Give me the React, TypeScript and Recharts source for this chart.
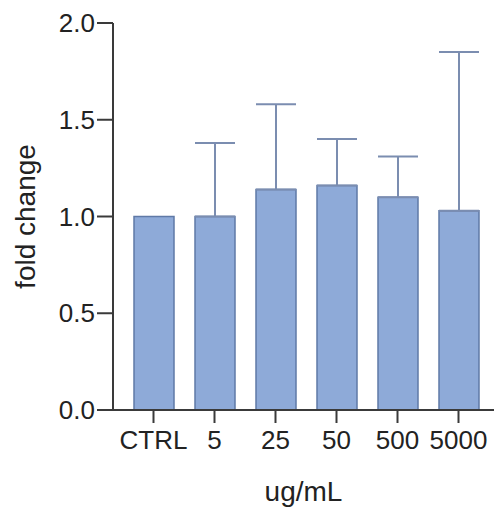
import { BarChart, Bar, XAxis, YAxis, ErrorBar, Label } from 'recharts';

const categories = ['CTRL', '5', '25', '50', '500', '5000'];
const means = [1.0, 1.0, 1.14, 1.16, 1.1, 1.03];
const upperSD = [null, 1.38, 1.58, 1.4, 1.31, 1.85];
const yTicks = [0, 0.5, 1.0, 1.5, 2.0];

const data = categories.map((name, i) => ({
    name,
    value: means[i],
    err: upperSD[i] == null ? null : [0, (upperSD[i] as number) - means[i]],
}));

const FONT = '"Liberation Sans", Arial, sans-serif';
const AXIS = '#3a3a3a';
const TEXT = '#222';

export default function App() {
    return (
        <div style={{ position: 'absolute', left: 0, top: 0 }}>
            <BarChart
                width={494}
                height={511}
                data={data}
                margin={{ top: 23, right: 0, bottom: 41, left: 0 }}
                barSize={40}
            >
                <XAxis
                    dataKey="name"
                    height={60}
                    padding={{ left: 10, right: 5 }}
                    stroke={AXIS}
                    strokeWidth={2}
                    tickSize={13}
                    tickMargin={8}
                    tick={{ fill: TEXT, fontSize: 26, fontFamily: FONT }}
                    interval={0}
                >
                    <Label value="ug/mL" position="bottom" offset={11} style={{ fill: TEXT, fontSize: 28, fontFamily: FONT }} />
                </XAxis>
                <YAxis
                    width={113}
                    domain={[0, 2]}
                    ticks={yTicks}
                    tickFormatter={(v: number) => v.toFixed(1)}
                    stroke={AXIS}
                    strokeWidth={2}
                    tickSize={16}
                    tickMargin={2}
                    tick={{ fill: TEXT, fontSize: 26, fontFamily: FONT }}
                >
                    <Label
                        value="fold change"
                        angle={-90}
                        position="insideLeft"
                        offset={25}
                        style={{ textAnchor: 'middle', fill: TEXT, fontSize: 28, fontFamily: FONT }}
                    />
                </YAxis>
                <Bar dataKey="value" fill="#8eaad8" stroke="#5f79a6" strokeWidth={1.5} isAnimationActive={false}>
                    <ErrorBar dataKey="err" direction="y" width={20} stroke="#7b8db0" strokeWidth={2} />
                </Bar>
            </BarChart>
        </div>
    );
}
